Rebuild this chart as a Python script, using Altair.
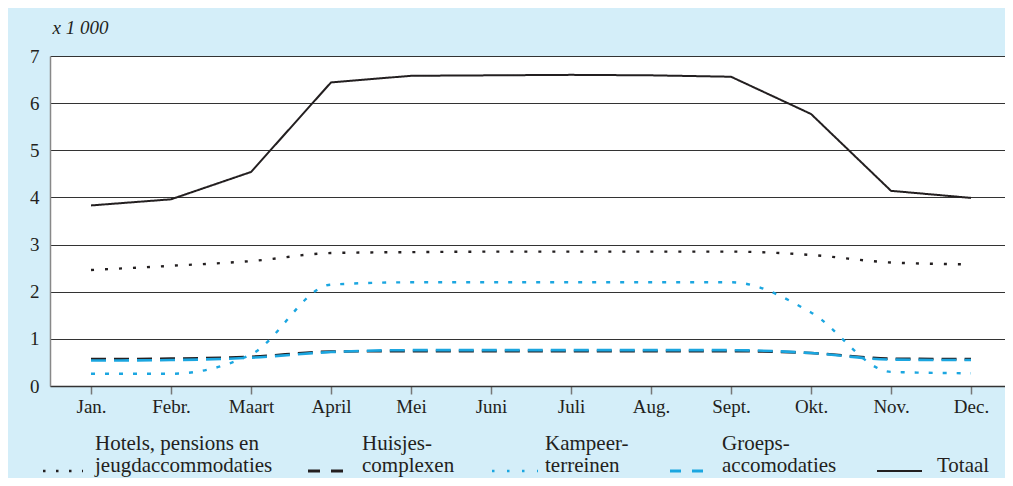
import altair as alt
import pandas as pd

months = ["Jan.", "Febr.", "Maart", "April", "Mei", "Juni", "Juli", "Aug.", "Sept.", "Okt.", "Nov.", "Dec."]
series_names = [
    "Hotels, pensions en|jeugdaccommodaties",
    "Huisjes-|complexen",
    "Kampeer-|terreinen",
    "Groeps-|accomodaties",
    "Totaal",
]
hotels = [2.46, 2.55, 2.65, 2.82, 2.84, 2.85, 2.85, 2.85, 2.85, 2.78, 2.62, 2.58]
huisjes = [0.57, 0.58, 0.62, 0.73, 0.74, 0.74, 0.74, 0.74, 0.74, 0.70, 0.58, 0.57]
kampeer = [0.26, 0.26, 0.67, 2.15, 2.20, 2.20, 2.20, 2.20, 2.20, 1.56, 0.30, 0.27]
groeps = [0.54, 0.55, 0.60, 0.72, 0.76, 0.76, 0.76, 0.76, 0.76, 0.70, 0.56, 0.55]
totaal = [3.83, 3.96, 4.54, 6.44, 6.58, 6.59, 6.60, 6.59, 6.56, 5.77, 4.14, 3.99]
y_ticks = [0, 1, 2, 3, 4, 5, 6, 7]

BLACK = "#231F20"
BLUE = "#1BA6E0"
FONT = "Liberation Serif"

LEG_Y = 416  # baseline of last legend line, in plot coordinates

styles = {
    series_names[0]: dict(color=BLACK, dash=[3, 11], width=2.4, interp="monotone",
                          sym=(-7, 33), symdash=[2.5, 10.5], symw=2.6, tx=45),
    series_names[1]: dict(color=BLACK, dash=[15, 8], width=2.6, interp="monotone",
                          sym=(258, 293), symdash=[12, 11], symw=3, tx=312),
    series_names[2]: dict(color=BLUE, dash=[4, 10], width=2.4, interp="monotone",
                          sym=(442, 488), symdash=[2.5, 12.5], symw=2.6, tx=495),
    series_names[3]: dict(color=BLUE, dash=[15, 8], width=2.6, interp="monotone",
                          sym=(620, 653), symdash=[11, 11], symw=3, tx=672),
    series_names[4]: dict(color=BLACK, dash=[1, 0], width=2.0, interp="linear",
                          sym=(827, 872), symdash=[1, 0], symw=2.2, tx=887),
}

values = dict(zip(series_names, [hotels, huisjes, kampeer, groeps, totaal]))

x_enc = alt.X("maand:N", sort=months, scale=alt.Scale(type="point", padding=0.46875, align=0.547),
              axis=alt.Axis(title=None, labelAngle=0, domainColor="#333333", domainWidth=1.5,
                            tickColor="#777777", tickSize=8, tickWidth=1.5, labelPadding=3,
                            labelFont=FONT, labelFontSize=19, labelColor=BLACK, grid=False))
y_enc = alt.Y("waarde:Q", scale=alt.Scale(domain=[0, 7], nice=False),
              axis=alt.Axis(values=y_ticks, title="x 1 000", titleAngle=0, titleAlign="left",
                            titleBaseline="alphabetic", titleX=2, titleY=-23, titleFont=FONT,
                            titleFontStyle="italic", titleFontWeight="normal", titleFontSize=19,
                            titleColor=BLACK, labelFont=FONT, labelFontSize=19, labelColor=BLACK,
                            labelPadding=11, ticks=False, domainColor="#888888", domainWidth=1.5,
                            grid=True, gridColor="#333333", gridWidth=1))

layers = []
for i, name in enumerate(series_names):
    st = styles[name]
    df = pd.DataFrame({"maand": months, "waarde": values[name]})
    enc = dict(x=x_enc, y=y_enc) if i == 0 else dict(x=alt.X("maand:N", sort=months), y="waarde:Q")
    layers.append(
        alt.Chart(df).mark_line(color=st["color"], strokeDash=st["dash"], strokeWidth=st["width"],
                                interpolate=st["interp"]).encode(**enc)
    )

# legend (drawn below the plot)
for name in series_names:
    st = styles[name]
    layers.append(
        alt.Chart(pd.DataFrame({"serie": [name]})).mark_rule(
            color=st["color"], strokeDash=st["symdash"], strokeWidth=st["symw"]
        ).encode(x=alt.value(st["sym"][0]), x2=alt.value(st["sym"][1]), y=alt.value(LEG_Y - 1))
    )
    n_lines = len(name.split("|"))
    layers.append(
        alt.Chart(pd.DataFrame({"serie": [name]})).mark_text(
            align="left", baseline="alphabetic", font=FONT, fontSize=21, color=BLACK,
            lineBreak="|", lineHeight=22
        ).encode(text="serie:N", x=alt.value(st["tx"]), y=alt.value(LEG_Y - 22 * (n_lines - 1)))
    )

chart = alt.layer(*layers).properties(
    width=955, height=330,
    background="#D4EEF9",
    padding={"left": 42, "top": 48, "right": 0, "bottom": 92},
    autosize=alt.AutoSizeParams(type="none"),
).configure_view(fill="white", stroke=None)

chart.save("out.html", embed_options={"renderer": "svg", "actions": False})
